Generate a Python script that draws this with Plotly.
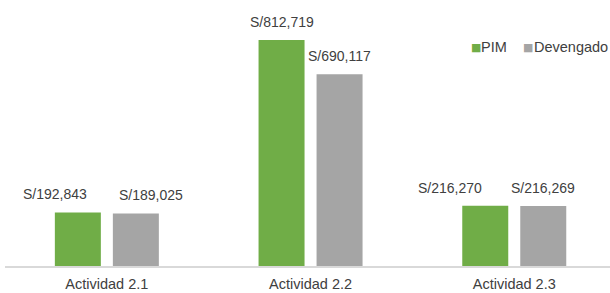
import plotly.graph_objects as go

categories = ["Actividad 2.1", "Actividad 2.2", "Actividad 2.3"]
series_names = ["PIM", "Devengado"]
pim = [192843, 812719, 216270]
devengado = [189025, 690117, 216269]
colors = ["#70AD47", "#A5A5A5"]

# label placement offsets (pixels from bar centre), as placed in the original
label_xshift = {
    "PIM": [-23, 0, -35],
    "Devengado": [15, 0, 0],
}

FONT = "Liberation Sans, Arial, sans-serif"
TXT = "#404040"

fig = go.Figure()
for name, vals, col in zip(series_names, [pim, devengado], colors):
    fig.add_trace(go.Bar(x=categories, y=vals, name=name, marker_color=col,
                         marker_line_width=0, showlegend=False, hoverinfo="skip"))

ann = []
for (name, vals), base in zip(zip(series_names, [pim, devengado]), [-29, 29]):
    for i, (c, v) in enumerate(zip(categories, vals)):
        ann.append(dict(x=c, y=v, xref="x", yref="y", text=f"S/{v:,}",
                        showarrow=False, yanchor="bottom", xanchor="center",
                        xshift=base + label_xshift[name][i], yshift=8,
                        font=dict(family=FONT, size=14, color=TXT)))

# legend drawn as annotations (small square + label)
leg_sq_x = [469, 521]
leg_tx_x = [479, 532]
ly = 1 - 52 / 293
for sx, tx, name, col in zip(leg_sq_x, leg_tx_x, series_names, colors):
    ann.append(dict(x=sx / 610, y=ly, xref="paper", yref="paper",
                    xanchor="left", yanchor="middle", showarrow=False,
                    text="■", borderpad=0,
                    font=dict(family="DejaVu Sans", size=11, color=col)))
    ann.append(dict(x=tx / 610, y=ly, xref="paper", yref="paper",
                    xanchor="left", yanchor="middle", showarrow=False,
                    text=name, borderpad=0,
                    font=dict(family=FONT, size=14.5, color=TXT)))

fig.update_layout(
    width=610, height=293,
    margin=dict(l=5, r=0, t=0, b=27, autoexpand=False),
    paper_bgcolor="white", plot_bgcolor="white",
    barmode="group", bargap=0.4305, bargroupgap=0.207,
    annotations=ann,
    xaxis=dict(range=[-0.5, 2.47], showline=True, linecolor="#D9D9D9",
               linewidth=1.5, ticks="", showgrid=False, ticklabelstandoff=4,
               tickfont=dict(family=FONT, size=14.5, color=TXT)),
    yaxis=dict(range=[0, 956800], visible=False, showgrid=False),
)
fig.write_html("out.html", config={"displayModeBar": False},
               post_script="document.body.style.margin='0';document.body.style.overflow='hidden';")
